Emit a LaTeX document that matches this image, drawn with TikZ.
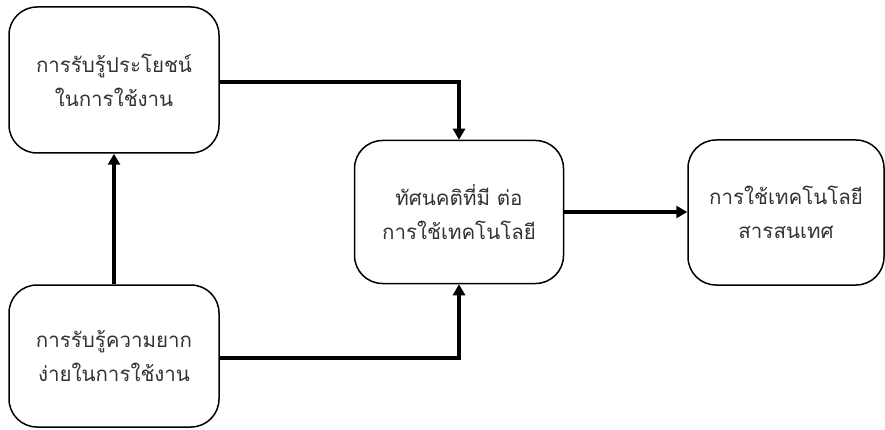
\documentclass[tikz,border=0pt]{standalone}
\usepackage{fontspec}
\newfontfamily\thaifont[Script=Thai]{Loma}
\usetikzlibrary{arrows.meta}
\begin{document}
\begin{tikzpicture}[x=1pt,y=-1pt,
  box/.style={draw=black,line width=1.5pt,rounded corners=28pt,fill=white,
    align=center,font=\thaifont\fontsize{20.5}{34}\selectfont,text=black!80,
    inner sep=0pt},
  flow/.style={line width=3.5pt,-{Triangle[width=12pt,length=11pt]}}]
  \useasboundingbox (0,0) rectangle (885,430);
  \node[box,minimum width=210pt,minimum height=146pt] (perU) at (114,80) {การรับรู้ประโยชน์\\ในการใช้งาน};
  \node[box,minimum width=210pt,minimum height=142pt] (perE) at (114,356) {การรับรู้ความยาก\\ง่ายในการใช้งาน};
  \node[box,minimum width=209pt,minimum height=143pt] (att) at (459,212) {ทัศนคติที่มี ต่อ\\การใช้เทคโนโลยี};
  \node[box,minimum width=196pt,minimum height=145pt] (use) at (786,212.5) {การใช้เทคโนโลยี\\สารสนเทศ};
  \draw[flow] (perE.north) -- (perU.south);
  \draw[flow] (perU.east |- 0,82) -| (att.north);
  \draw[flow] (perE.east |- 0,358) -| (att.south);
  \draw[flow] (att.east) -- (att.east -| use.west);
\end{tikzpicture}
\end{document}
